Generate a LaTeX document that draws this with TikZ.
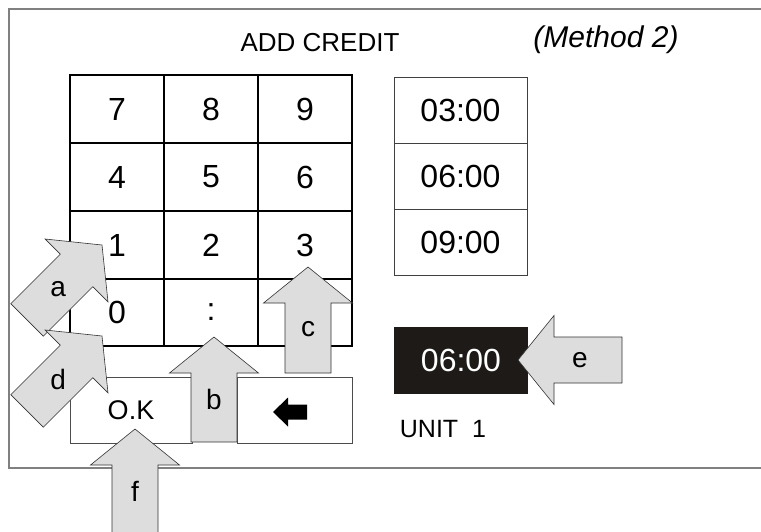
\documentclass[tikz,border=0pt]{standalone}
\usepackage{fontspec}
\setmainfont{Liberation Sans}
\definecolor{framegray}{RGB}{128,128,128}
\definecolor{callgray}{RGB}{221,221,221}
\definecolor{selblack}{RGB}{30,26,23}
\newcommand{\callout}[6]{%
  \begin{scope}[shift={(#2,#3)}, rotate=#4]
    \draw[callbox] (0,0) -- (-36,44.5) -- (-36,23) -- (-#6,23) -- (-#6,-23)
      -- (-36,-23) -- (-36,-44.5) -- cycle;
    \node[calltext](#1) at (-62,0) {#5};
  \end{scope}}
\begin{document}
\begin{tikzpicture}[
        x=1pt, y=-1pt,
        key/.style={draw, line width=1.2pt, minimum width=94pt, minimum height=68pt,
          inner sep=0pt, font=\fontsize{32}{36}\selectfont},
        timebox/.style={draw=black!75, line width=0.8pt, minimum width=133pt,
          minimum height=66pt, inner sep=0pt, font=\fontsize{32}{36}\selectfont},
        button/.style={draw=black!70, line width=0.8pt, minimum height=66pt, inner sep=0pt,
          fill=white, font=\fontsize{27}{30}\selectfont},
        callbox/.style={fill=callgray, draw=black!80, line width=0.6pt, line join=miter},
        calltext/.style={inner sep=0pt, font=\fontsize{28}{32}\selectfont},
        plain/.style={inner sep=0pt},
    ]
    \clip (0,0) rectangle (761,531);
    \fill[white] (0,0) rectangle (761,531);
    \draw[framegray, line width=1.3pt] (780,9) -- (9,9) -- (9,468) -- (780,468);

    \node[plain, font=\fontsize{26}{30}\selectfont](title) at (320,43) {ADD CREDIT};
    \node[plain, font=\fontsize{30}{34}\selectfont\itshape](method) at (606,40) {(Method 2)};

    \node[key](k7) at (117,109) {7};
    \node[key](k8) at (211,109) {8};
    \node[key](k9) at (305,109) {9};
    \node[key](k4) at (117,177) {4};
    \node[key](k5) at (211,177) {5};
    \node[key](k6) at (305,177) {6};
    \node[key](k1) at (117,245) {1};
    \node[key](k2) at (211,245) {2};
    \node[key](k3) at (305,245) {3};
    \node[key, minimum height=67pt](k0) at (117,312.5) {0};
    \node[key, minimum height=67pt](kcolon) at (211,312.5) {:};
    \node[key, minimum height=67pt](k00) at (305,312.5) {00};

    \node[timebox](t3) at (460.5,110) {03:00};
    \node[timebox](t6) at (460.5,176) {06:00};
    \node[timebox](t9) at (460.5,242.5) {09:00};
    \node[timebox, draw=none, fill=selblack, text=white, minimum width=134pt,
      minimum height=67pt](sel) at (461,360.5) {06:00};
    \node[plain, font=\fontsize{25}{28}\selectfont](unit) at (443,429) {UNIT\ \ 1};

    \node[button, minimum width=122pt](ok) at (131,410) {O.K};
    \node[button, minimum width=115pt](back) at (294.5,410) {};
    \fill[black, shift={(back.center)}] (-21.5,2) -- (-6.5,-12.5) -- (-6.5,-5.5)
      -- (12.5,-5.5) -- (12.5,9.5) -- (-6.5,9.5) -- (-6.5,16.5) -- cycle;

    \callout{a}{102}{245}{45}{a}{106}
    \callout{d}{102}{336}{45}{d}{106}
    \callout{c}{308}{267}{90}{c}{106}
    \callout{b}{214}{337}{90}{b}{105}
    \callout{f}{135}{429}{90}{f}{130}
    \callout{e}{518}{360}{180}{e}{104}
\end{tikzpicture}
\end{document}
